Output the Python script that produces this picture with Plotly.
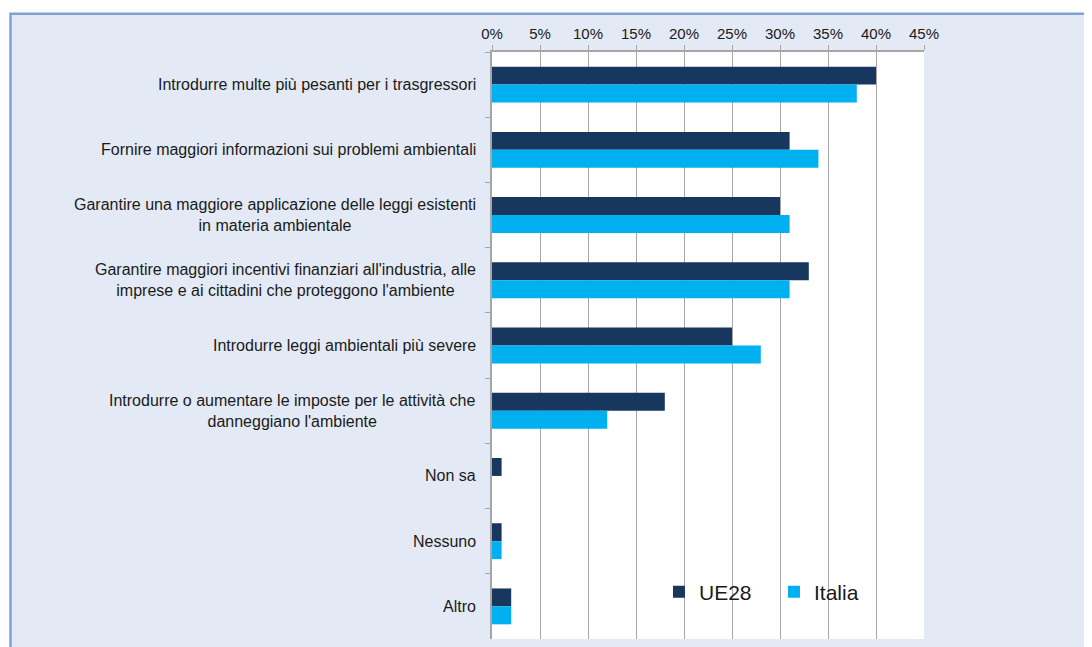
import plotly.graph_objects as go

categories = [
    "Introdurre multe più pesanti per i trasgressori",
    "Fornire maggiori informazioni sui problemi ambientali",
    "Garantire una maggiore applicazione delle leggi esistenti<br>in materia ambientale",
    "Garantire maggiori incentivi finanziari all'industria, alle<br>imprese e ai cittadini che proteggono l'ambiente",
    "Introdurre leggi ambientali più severe",
    "Introdurre o aumentare le imposte per le attività che<br>danneggiano l'ambiente",
    "Non sa",
    "Nessuno",
    "Altro",
]
ue28 = [40, 31, 30, 33, 25, 18, 1, 1, 2]
italia = [38, 34, 31, 31, 28, 12, 0, 1, 2]
tick_vals = [0, 5, 10, 15, 20, 25, 30, 35, 40, 45]
tick_text = [f"{v}%" for v in tick_vals]

FONT = "Liberation Sans, Arial, sans-serif"
NAVY = "#17375E"
CYAN = "#00B0F0"
GRID = "#A6A6A6"
TXT = "#1A1A1A"

fig = go.Figure()
fig.add_trace(go.Bar(y=categories, x=ue28, orientation="h", name="UE28",
                     marker=dict(color=NAVY, line=dict(width=0))))
fig.add_trace(go.Bar(y=categories, x=italia, orientation="h", name="Italia",
                     marker=dict(color=CYAN, line=dict(width=0))))

shapes = [
    dict(type="rect", xref="paper", yref="paper", x0=-1.1146, x1=1.6, y0=-0.1, y1=1.0652,
         fillcolor="#E3EAF5", line=dict(color="#7EA3D6", width=2.5), layer="below"),
    dict(type="rect", xref="paper", yref="paper", x0=0, x1=1, y0=0, y1=1,
         fillcolor="white", line=dict(width=0), layer="below"),
]

annotations = []
for c in categories:
    annotations.append(dict(x=0, xref="paper", y=c, yref="y", xanchor="right", yanchor="middle",
                            xshift=-14, text=c, showarrow=False, align="center",
                            font=dict(family=FONT, size=16, color=TXT)))

fig.update_layout(
    width=1084, height=639,
    margin=dict(l=484, r=168, t=44, b=8),
    paper_bgcolor="white",
    plot_bgcolor="rgba(0,0,0,0)",
    barmode="group",
    bargap=0.45,
    bargroupgap=0,
    shapes=shapes,
    annotations=annotations,
    showlegend=True,
    legend=dict(orientation="h", x=0.3865, y=0.08, xanchor="left", yanchor="middle",
                font=dict(family=FONT, size=21, color=TXT),
                bgcolor="rgba(0,0,0,0)", itemwidth=30, traceorder="normal",
                entrywidth=70, entrywidthmode="pixels"),
    font=dict(family=FONT, size=15, color=TXT),
)
fig.update_xaxes(side="top", range=[0, 45], tickvals=tick_vals, ticktext=tick_text,
                 showgrid=True, gridcolor=GRID, gridwidth=1,
                 showline=True, linecolor=GRID, linewidth=1.5,
                 ticks="outside", ticklen=5, tickcolor=GRID,
                 tickfont=dict(family=FONT, size=15, color=TXT),
                 zeroline=False, fixedrange=True)
fig.update_yaxes(autorange="reversed", type="category", showticklabels=False,
                 showline=True, linecolor=GRID, linewidth=1.5,
                 ticks="outside", ticklen=5, tickcolor=GRID, tickson="boundaries",
                 showgrid=False, fixedrange=True)

fig.write_html("out.html")
